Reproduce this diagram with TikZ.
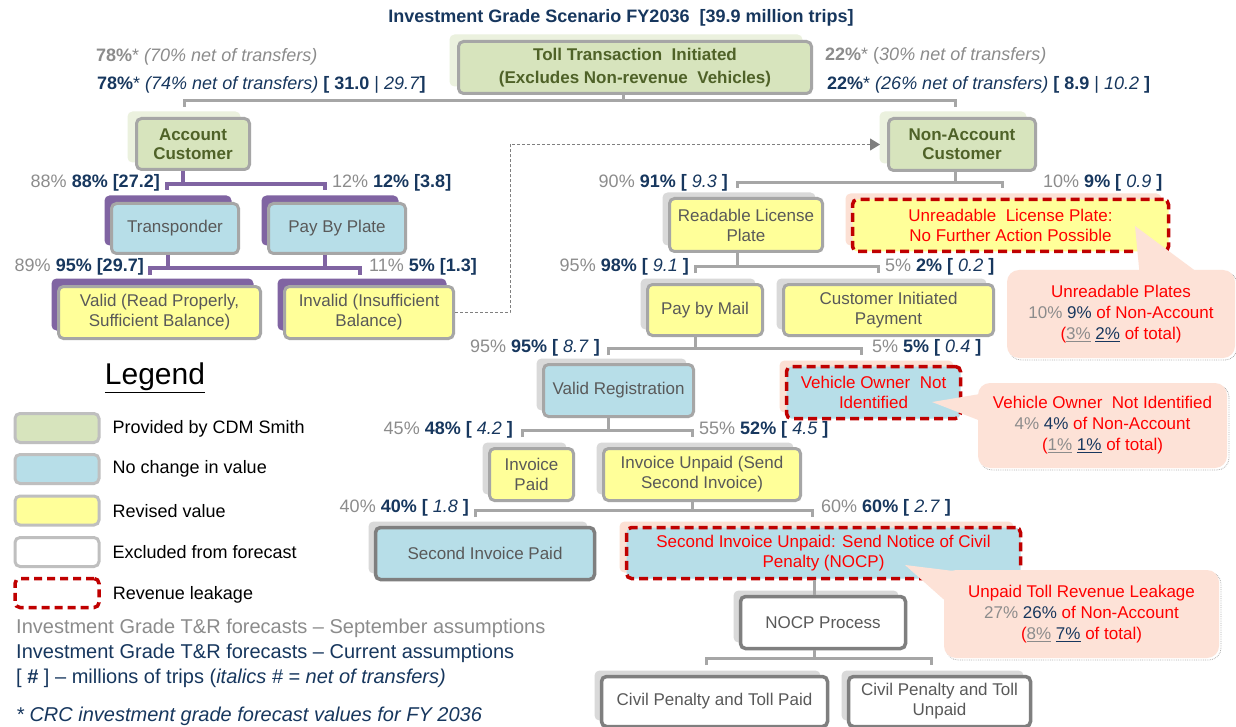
\documentclass[tikz,border=0pt]{standalone}
\usepackage{fontspec}
\setmainfont{Liberation Sans}
\usetikzlibrary{shadows,arrows.meta}
\definecolor{navy}{HTML}{17375E}
\definecolor{lgray}{HTML}{8C8C8C}
\definecolor{bgray}{HTML}{A6A6A6}
\definecolor{dgray}{HTML}{7F7F7F}
\definecolor{tgray}{HTML}{595959}
\definecolor{gfill}{HTML}{D7E4BD}
\definecolor{gshad}{HTML}{EBF1DE}
\definecolor{olive}{HTML}{4F6228}
\definecolor{bfill}{HTML}{B7DEE8}
\definecolor{yfill}{HTML}{FFFF99}
\definecolor{purp}{HTML}{8064A2}
\definecolor{sgray}{HTML}{D9D9D9}
\definecolor{lred}{HTML}{C00000}
\definecolor{rtext}{HTML}{FF0000}
\definecolor{pshad}{HTML}{FCE0D4}
\definecolor{cfill}{HTML}{FDE2D7}
\definecolor{lgbord}{HTML}{BFBFBF}
\newcommand{\gr}[1]{{\color{lgray}#1}}
\newcommand{\nv}[1]{{\color{navy}#1}}
\newcommand{\lbR}[3]{\gr{#1} \nv{\textbf{#2 [} \textit{#3} \textbf{]}}}
\newcommand{\lbL}[3]{\gr{#1} \nv{\textbf{#2 [#3]}}}
\newcommand{\brkt}[7]{%
 \coordinate (#1b) at (#2,#3);
 \coordinate (#1l) at (#4,#6);
 \coordinate (#1r) at (#5,#6);
 \draw[#7] (#1.south -| #1b) -- (#1b);
 \draw[#7] (#1l) |- (#1b) -| (#1r);}
\begin{document}
\begin{tikzpicture}[x=1pt,y=-1pt,
 box/.style={rounded corners=5pt, line width=3pt, draw=bgray, align=center, text=tgray, inner sep=2pt, font=\fontsize{17}{20}\selectfont},
 sz/.style 2 args={minimum width=#1pt, minimum height=#2pt},
 gbox/.style={box, fill=gfill, text=olive, font=\fontsize{17}{19}\selectfont\bfseries, general shadow={fill=gshad, shadow xshift=-9pt, shadow yshift=7pt}},
 pshadow/.style={general shadow={fill=purp, shadow xshift=-7pt, shadow yshift=8pt}},
 gshadow/.style={general shadow={fill=sgray, shadow xshift=-7pt, shadow yshift=6pt}},
 rshadow/.style={general shadow={fill=pshad, shadow xshift=-7pt, shadow yshift=6pt}},
 bluebox/.style={box, fill=bfill},
 yellowbox/.style={box, fill=yfill},
 exclbox/.style={box, fill=white, draw=dgray, line width=3.5pt},
 leak/.style={box, draw=lred, line width=3.5pt, dash pattern=on 9pt off 5pt, text=rtext},
 conn/.style={draw=bgray, line width=3pt},
 pconn/.style={draw=purp, line width=3.5pt},
 lab/.style={font=\fontsize{18}{20}\selectfont, inner sep=0pt},
 callout/.style={rounded corners=12pt, fill=cfill, align=center, text=rtext, inner sep=2pt, font=\fontsize{17}{21}\selectfont, general shadow={draw=black!30, densely dotted, line width=0.8pt, shadow xshift=2pt, shadow yshift=-2pt}},
 legbox/.style={rounded corners=5pt, line width=3pt, draw=lgbord, minimum width=84pt, minimum height=29pt},
 legtxt/.style={font=\fontsize{18}{20}\selectfont, inner sep=0pt, anchor=west},
 foot/.style={font=\fontsize{20}{22}\selectfont, inner sep=0pt, anchor=west}
]
\fill[white] (0,0) rectangle (1236,727);
\useasboundingbox (0,0) rectangle (1236,727);

% title
\node[font=\fontsize{18}{20}\selectfont\bfseries, text=navy] (title) at (621,18) {Investment Grade Scenario FY2036\ \ [39.9 million trips]};

% nodes
\node[gbox, sz={353}{52}, font=\fontsize{17}{23}\selectfont\bfseries] (toll) at (635,67.5) {Toll Transaction\ \ Initiated\\(Excludes Non-revenue\ \ Vehicles)};
\node[gbox, sz={113}{51}] (acct) at (193,144) {Account\\Customer};
\node[gbox, sz={147}{52}] (nonacct) at (962,144.5) {Non-Account\\Customer};
\node[bluebox, pshadow, sz={127}{50}] (transp) at (175,228.5) {Transponder};
\node[bluebox, pshadow, sz={137}{50}] (pbp) at (337,228.5) {Pay By Plate};
\node[yellowbox, pshadow, sz={202}{52}] (valid) at (159.5,312.5) {Valid (Read Properly,\\Sufficient Balance)};
\node[yellowbox, pshadow, sz={169}{52}] (invalid) at (369,312.5) {Invalid (Insufficient\\Balance)};
\node[yellowbox, gshadow, sz={153}{53}] (readable) at (746,225) {Readable License\\Plate};
\node[leak, fill=yfill, rshadow, sz={316}{52}] (unread) at (1010.5,225.5) {Unreadable\ \ License Plate:\\No Further Action Possible};
\node[yellowbox, gshadow, sz={115}{51}] (mail) at (705,310) {Pay by Mail};
\node[yellowbox, gshadow, sz={210}{51}] (cip) at (888.5,310) {Customer Initiated\\Payment};
\node[bluebox, gshadow, sz={150}{52}] (validreg) at (618.5,390.5) {Valid Registration};
\node[leak, fill=bfill, rshadow, sz={174}{52}] (vonid) at (873.5,392.5) {Vehicle Owner\ \ Not\\Identified};
\node[yellowbox, gshadow, sz={84}{52}] (invpaid) at (531.5,474.5) {Invoice\\Paid};
\node[yellowbox, gshadow, sz={197}{52}] (invunpaid) at (702,474.5) {Invoice Unpaid (Send\\Second Invoice)};
\node[bluebox, gshadow, draw=dgray, line width=3.5pt, sz={219}{52}] (sip) at (485,553.5) {Second Invoice Paid};
\node[leak, fill=bfill, rshadow, sz={394}{51}] (siu) at (823.5,553) {Second Invoice Unpaid: Send Notice of Civil\\Penalty (NOCP)};
\node[exclbox, gshadow, sz={165}{52}] (nocp) at (823,622.5) {NOCP Process};
\node[exclbox, gshadow, sz={226}{50}] (cptp) at (714.5,701.5) {Civil Penalty and Toll Paid};
\node[exclbox, gshadow, sz={182}{50}] (cptu) at (939.5,701.5) {Civil Penalty and Toll\\Unpaid};

% brackets
\brkt{toll}{623}{101}{184}{955}{107}{conn}
\brkt{acct}{183}{184}{167}{325}{190}{pconn}
\coordinate (tpb) at (168,268);
\coordinate (ppb) at (325,268);
\coordinate (tpl) at (150,275);
\coordinate (tpr) at (360,275);
\draw[pconn] (transp.south -| tpb) -- (tpb);
\draw[pconn] (pbp.south -| ppb) -- (ppb);
\draw[pconn] (tpl) |- (tpb) -- (ppb) -| (tpr);
\brkt{nonacct}{955}{183}{737}{1002}{188}{conn}
\brkt{readable}{737}{267}{695}{878}{273}{conn}
\brkt{mail}{695}{348}{608}{861}{355}{conn}
\brkt{validreg}{608}{430}{522}{692}{437}{conn}
\brkt{invunpaid}{692}{510}{475}{812}{517}{conn}
\brkt{nocp}{814}{658}{706}{931}{665}{conn}
\draw[conn] (siu.south -| nocpb) -- (nocp.north -| nocpb);

% dashed arrow
\coordinate (dk) at (510,200);
\draw[dgray, line width=1pt, dash pattern=on 3pt off 2pt, -{Triangle[length=10pt,width=12pt]}] (invalid.east) -| (dk) |- ([xshift=-7pt]nonacct.west);

% labels
\node[lab, anchor=east] (l1) at (160,183) {\lbL{88\%}{88\%}{27.2}};
\node[lab, anchor=west] (l2) at (332,183) {\lbL{12\%}{12\%}{3.8}};
\node[lab, anchor=east] (l3) at (144,267) {\lbL{89\%}{95\%}{29.7}};
\node[lab, anchor=west] (l4) at (369,267) {\lbL{11\%}{5\%}{1.3}};
\node[lab, anchor=east] (l5) at (728,183) {\lbR{90\%}{91\%}{9.3}};
\node[lab, anchor=west] (l6) at (1043,183) {\lbR{10\%}{9\%}{0.9}};
\node[lab, anchor=east] (l7) at (689,267) {\lbR{95\%}{98\%}{9.1}};
\node[lab, anchor=west] (l8) at (885,267) {\lbR{5\%}{2\%}{0.2}};
\node[lab, anchor=east] (l9) at (600,348) {\lbR{95\%}{95\%}{8.7}};
\node[lab, anchor=west] (l10) at (872,348) {\lbR{5\%}{5\%}{0.4}};
\node[lab, anchor=east] (l11) at (513,430) {\lbR{45\%}{48\%}{4.2}};
\node[lab, anchor=west] (l12) at (699,430) {\lbR{55\%}{52\%}{4.5}};
\node[lab, anchor=east] (l13) at (469,508) {\lbR{40\%}{40\%}{1.8}};
\node[lab, anchor=west] (l14) at (821,508) {\lbR{60\%}{60\%}{2.7}};

\node[lab, anchor=west] (t1) at (96,57) {\gr{\textbf{78\%}*\ \textit{(70\% net of transfers)}}};
\node[lab, anchor=west] (t2) at (97,85) {\nv{\textbf{78\%}* \textit{(74\% net of transfers)} \textbf{[ 31.0} | \textit{29.7}\textbf{]}}};
\node[lab, anchor=west] (t3) at (825,56) {\gr{\textbf{22\%}* (\textit{30\% net of transfers)}}};
\node[lab, anchor=west] (t4) at (827,85) {\nv{\textbf{22\%}* \textit{(26\% net of transfers)} \textbf{[ 8.9} | \textit{10.2} \textbf{]}}};

% callouts: pointer wedges first, then bodies
\coordinate (cuptip) at (1135,226);
\coordinate (cupa) at (1140,278);
\coordinate (cupb) at (1205,278);
\fill[cfill] (cupa) -- (cuptip) -- (cupb) -- cycle;
\node[callout, sz={228}{88}] (cup) at (1121,314) {Unreadable Plates\\ \gr{10\%} \nv{9\%} of Non-Account\\(\gr{\underline{3\%}} \nv{\underline{2\%}} of total)};
\coordinate (cvotip) at (932,402);
\coordinate (cvoa) at (986,393);
\coordinate (cvob) at (986,423);
\fill[cfill] (cvoa) -- (cvotip) -- (cvob) -- cycle;
\node[callout, sz={249}{85}] (cvo) at (1102.5,425.5) {Vehicle Owner\ \ Not Identified\\ \gr{4\%} \nv{4\%} of Non-Account\\(\gr{\underline{1\%}} \nv{\underline{1\%}} of total)};
\coordinate (cuttip) at (905,565);
\coordinate (cuta) at (950,605);
\coordinate (cutb) at (994,576);
\fill[cfill] (cuta) -- (cuttip) -- (cutb) -- cycle;
\node[callout, sz={275}{88}] (cut) at (1081.5,614) {Unpaid Toll Revenue Leakage\\ \gr{27\%} \nv{26\%} of Non-Account\\(\gr{\underline{8\%}} \nv{\underline{7\%}} of total)};

% legend
\node[font=\fontsize{30}{34}\selectfont] (leg) at (155,378) {\underline{Legend}};
\node[legbox, fill=gfill] (k1) at (57,428) {};
\node[legbox, fill=bfill] (k2) at (57,469) {};
\node[legbox, fill=yfill] (k3) at (57,510.5) {};
\node[legbox, fill=white] (k4) at (57,552) {};
\node[legbox, draw=lred, line width=3.5pt, dash pattern=on 8pt off 5pt] (k5) at (57,593) {};
\node[legtxt] (k1t) at ([xshift=12pt,yshift=-1pt]k1.east) {Provided by CDM Smith};
\node[legtxt] (k2t) at ([xshift=12pt]k2.east) {No change in value};
\node[legtxt] (k3t) at ([xshift=12pt,yshift=-1pt]k3.east) {Revised value};
\node[legtxt] (k4t) at ([xshift=12pt]k4.east) {Excluded from forecast};
\node[legtxt] (k5t) at ([xshift=12pt,yshift=-2pt]k5.east) {Revenue leakage};

% footer
\node[foot, text=lgray] (f1) at (16,628) {Investment Grade T\&R forecasts – September assumptions};
\node[foot, text=navy] (f2) at (16,653) {Investment Grade T\&R forecasts – Current assumptions};
\node[foot, text=navy] (f3) at (16,678) {[ \textbf{\#} ] – millions of trips (\textit{italics \# = net of transfers)}};
\node[foot, text=navy] (f4) at (16,716) {\textit{* CRC investment grade forecast values for FY 2036}};
\end{tikzpicture}
\end{document}
